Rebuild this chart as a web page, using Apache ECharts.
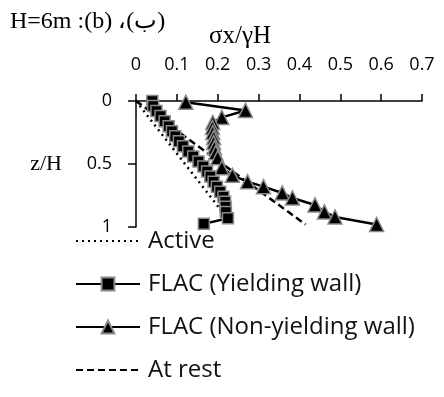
<!DOCTYPE html>
<html>
<head>
<meta charset="utf-8">
<script src="https://cdn.jsdelivr.net/npm/echarts@6/dist/echarts.min.js"></script>
<style>
html,body{margin:0;padding:0;background:#fff;}
#c{width:444px;height:397px;}
</style>
</head>
<body>
<div id="c"></div>
<script>
// ---- data ----
var xTicks = [0, 0.1, 0.2, 0.3, 0.4, 0.5, 0.6, 0.7];
var yTicks = [0, 0.5, 1];
var seriesNames = ['Active', 'FLAC (Yielding wall)', 'FLAC (Non-yielding wall)', 'At rest'];

var activeX = [0, 0.21];
var activeZ = [0, 0.875];

var yieldingX = [0.04, 0.042, 0.05, 0.06, 0.07, 0.08, 0.088, 0.096, 0.105, 0.115, 0.128, 0.14, 0.153, 0.165, 0.174, 0.182, 0.19, 0.198, 0.206, 0.214, 0.218, 0.219, 0.22, 0.225, 0.166];
var yieldingZ = [0, 0.04, 0.08, 0.12, 0.16, 0.20, 0.24, 0.28, 0.32, 0.36, 0.40, 0.44, 0.48, 0.52, 0.56, 0.60, 0.64, 0.68, 0.72, 0.76, 0.80, 0.84, 0.88, 0.93, 0.975];

var nonYieldingX = [0.122, 0.268, 0.21, 0.188, 0.187, 0.188, 0.19, 0.19, 0.192, 0.195, 0.2, 0.21, 0.236, 0.273, 0.312, 0.358, 0.383, 0.438, 0.461, 0.487, 0.589];
var nonYieldingZ = [0.01, 0.075, 0.13, 0.17, 0.21, 0.25, 0.29, 0.33, 0.37, 0.41, 0.45, 0.53, 0.59, 0.64, 0.68, 0.73, 0.77, 0.825, 0.88, 0.92, 0.98];

var atRestX = [0, 0.415];
var atRestZ = [0, 0.98];

function pairs(xs, zs) { return xs.map(function (x, i) { return [x, zs[i]]; }); }

var chart = echarts.init(document.getElementById('c'), null, {renderer: 'canvas'});
var sans = '"Open Sans", sans-serif';
var serif = '"Liberation Serif", "DejaVu Serif", serif';
var hidden = {color: 'rgba(0,0,0,0)', borderColor: 'rgba(0,0,0,0)', borderWidth: 0};

chart.setOption({
  animation: false,
  backgroundColor: '#fff',
  title: [
    {text: 'H=6m :(b) ،(ب)', left: 5, top: 5,
     textStyle: {fontFamily: serif, fontSize: 24, fontWeight: 'normal', color: '#000'}},
    {text: 'σx/γH', left: 204, top: 19,
     textStyle: {fontFamily: serif, fontSize: 25, fontWeight: 'normal', color: '#000'}}
  ],
  grid: {left: 136, right: 22, top: 101, bottom: 170, containLabel: false},
  xAxis: {
    type: 'value', position: 'top', min: xTicks[0], max: xTicks[xTicks.length - 1], interval: 0.1,
    axisLine: {show: true, lineStyle: {color: '#000', width: 1.5}},
    axisTick: {show: true, inside: false, length: 7, lineStyle: {color: '#000', width: 1.5}},
    axisLabel: {margin: 27, fontFamily: sans, fontSize: 18, color: '#000'},
    splitLine: {show: false}
  },
  yAxis: {
    type: 'value', inverse: true, min: yTicks[0], max: yTicks[yTicks.length - 1], interval: 0.5,
    name: 'z/H', nameLocation: 'middle', nameRotate: 0, nameGap: 74,
    nameTextStyle: {fontFamily: serif, fontSize: 22, color: '#000'},
    axisLine: {show: true, lineStyle: {color: '#000', width: 1.5}},
    axisTick: {show: true, inside: false, length: 8, lineStyle: {color: '#000', width: 1.5}},
    axisLabel: {margin: 24, fontFamily: sans, fontSize: 18, color: '#000'},
    splitLine: {show: false}
  },
  legend: {
    orient: 'vertical', left: 70, top: 224, itemGap: 19, itemWidth: 64, itemHeight: 16,
    textStyle: {fontFamily: sans, fontSize: 24, color: '#111', padding: [0, 0, 0, 3]},
    data: [
      {name: seriesNames[0], itemStyle: hidden},
      {name: seriesNames[1]},
      {name: seriesNames[2]},
      {name: seriesNames[3], itemStyle: hidden}
    ]
  },
  series: [
    {name: seriesNames[0], type: 'line', data: pairs(activeX, activeZ), symbol: 'none',
     lineStyle: {color: '#000', width: 2.5, type: [2, 4]}, itemStyle: {color: '#000'}, z: 1},
    {name: seriesNames[3], type: 'line', data: pairs(atRestX, atRestZ), symbol: 'none',
     lineStyle: {color: '#000', width: 2.5, type: [7, 4]}, itemStyle: {color: '#000'}, z: 1},
    {name: seriesNames[1], type: 'line', data: pairs(yieldingX, yieldingZ), symbol: 'rect', symbolSize: 11,
     lineStyle: {color: '#000', width: 2.5}, itemStyle: {color: '#000', borderColor: '#8a8a8a', borderWidth: 1.5}, z: 3},
    {name: seriesNames[2], type: 'line', data: pairs(nonYieldingX, nonYieldingZ), symbol: 'triangle', symbolSize: 14,
     lineStyle: {color: '#000', width: 2.5}, itemStyle: {color: '#000', borderColor: '#8a8a8a', borderWidth: 1.5}, z: 2}
  ]
});
</script>
</body>
</html>
